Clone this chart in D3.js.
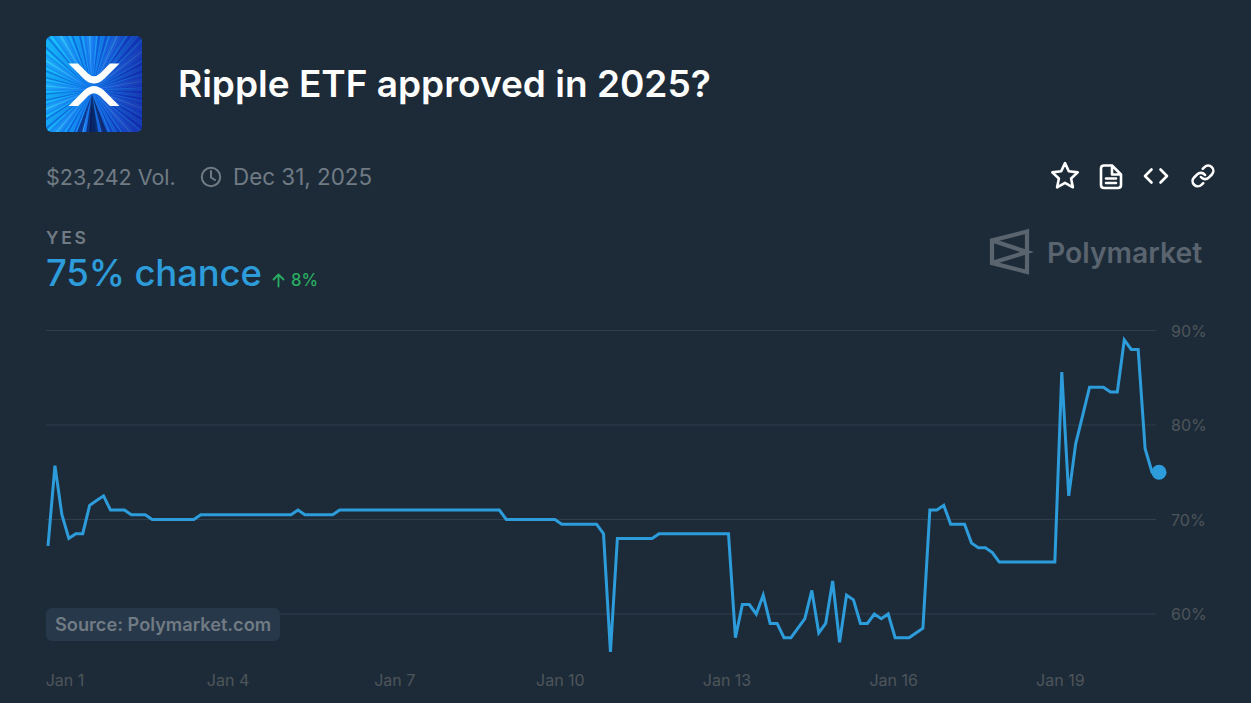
<!DOCTYPE html>
<html><head><meta charset="utf-8">
<script src="https://cdn.jsdelivr.net/npm/d3@7"></script>
<style>
html,body{margin:0;padding:0;background:#1D2B39;overflow:hidden}
svg{display:block;font-family:Inter,"Noto Sans",sans-serif}
</style></head><body><svg id="c" width="1251" height="703"></svg>
<script>
const title = "Ripple ETF approved in 2025?";
const volumeLabel = "$23,242 Vol.";
const endDateLabel = "Dec 31, 2025";
const outcomeLabel = "YES";
const chanceLabel = "75% chance";
const changeLabel = "8%";
const sourceLabel = "Source: Polymarket.com";
const brandLabel = "Polymarket";
const startTime = Date.UTC(2024, 11, 31, 18, 12);
const stepHours = 3;
const yTicks = [60, 70, 80, 90];
const xTickDates = [[0,1],[0,4],[0,7],[0,10],[0,13],[0,16],[0,19]];
const values = [
 67.2,75.7,70.5,68,68.5,68.5,71.5,72,72.5,71,
 71,71,70.5,70.5,70.5,70,70,70,70,70,
 70,70,70.5,70.5,70.5,70.5,70.5,70.5,70.5,70.5,
 70.5,70.5,70.5,70.5,70.5,70.5,71,70.5,70.5,70.5,
 70.5,70.5,71,71,71,71,71,71,71,71,
 71,71,71,71,71,71,71,71,71,71,
 71,71,71,71,71,71,70,70,70,70,
 70,70,70,70,69.5,69.5,69.5,69.5,69.5,69.5,
 68.5,56,68,68,68,68,68,68,68.5,68.5,
 68.5,68.5,68.5,68.5,68.5,68.5,68.5,68.5,68.5,57.5,
 61,61,60,62,59,59,57.5,57.5,58.5,59.5,
 62.5,58,59,63.5,57,62,61.5,59,59,60,
 59.5,60,57.5,57.5,57.5,58,58.5,71,71,71.5,
 69.5,69.5,69.5,67.5,67,67,66.5,65.5,65.5,65.5,
 65.5,65.5,65.5,65.5,65.5,65.5,85.6,72.5,78,81,
 84,84,84,83.5,83.5,89,88,88,77.5,75,
 75
];

const series = values.map((v,i)=>({t:new Date(startTime+i*stepHours*36e5),v}));
const svg = d3.select("#c");
const C = {bg:"#1D2B39",line:"#2D9CDB",grid:"#2F3F4E",tick:"#4E5559",muted:"#717B84",green:"#27AE60",white:"#FFFFFF",logo:"#59646F",srcBg:"#26384A"};

const x = d3.scaleUtc().domain([series[0].t, series[series.length-1].t]).range([48,1159]);
const y = d3.scaleLinear().domain([60,90]).range([614,330.5]);

// Thumbnail
const defs = svg.append("defs");
const cp = defs.append("clipPath").attr("id","thumb");
cp.append("rect").attr("x",46).attr("y",36).attr("width",96).attr("height",96).attr("rx",6);
const bgGrad = defs.append("linearGradient").attr("id","tg").attr("x1","0").attr("x2","1").attr("y1","0.35").attr("y2","0.55");
bgGrad.append("stop").attr("offset","0").attr("stop-color","#12B8F8");
bgGrad.append("stop").attr("offset","0.45").attr("stop-color","#1270EA");
bgGrad.append("stop").attr("offset","1").attr("stop-color","#1A2FC4");
const shade = defs.append("linearGradient").attr("id","ts").attr("x1","0").attr("x2","1");
shade.append("stop").attr("offset","0.5").attr("stop-color","#12249A").attr("stop-opacity",0);
shade.append("stop").attr("offset","1").attr("stop-color","#12249A").attr("stop-opacity",0.6);
const th = svg.append("g").attr("clip-path","url(#thumb)");
th.append("rect").attr("x",46).attr("y",36).attr("width",96).attr("height",96).attr("fill","url(#tg)");
const rayColors = ["#23C8FF","#0F5FE0","#3DA8FF","#1248D8","#18A8F4","#0B3BC4","#52D4FF","#1A7AF0","#0E2FA8","#2B90FA","#0A4BD0"];
const cx=92, cy=90;
d3.range(0,360,2.5).forEach((a,i)=>{
  const a0=(a-1)*Math.PI/180,a1=(a+1)*Math.PI/180,R=100;
  th.append("path").attr("d",`M${cx},${cy}L${cx+R*Math.cos(a0)},${cy+R*Math.sin(a0)}L${cx+R*Math.cos(a1)},${cy+R*Math.sin(a1)}Z`)
    .attr("fill",rayColors[(i*i*3+i*7)%rayColors.length]).attr("opacity",0.5);
});
[[72,50,"#061A50"],[84,44,"#071E58"],[95,46,"#0A1E60"],[108,50,"#0A2A80"],[90,40,"#06144A"]].forEach(([a,L,col])=>{
  const a0=(a-3.5)*Math.PI/180,a1=(a+3.5)*Math.PI/180;
  th.append("path").attr("d",`M${cx},${cy+4}L${cx+L*Math.cos(a0)},${cy+4+L*Math.sin(a0)}L${cx+L*Math.cos(a1)},${cy+4+L*Math.sin(a1)}Z`).attr("fill",col).attr("opacity",.8);
});
th.append("rect").attr("x",46).attr("y",36).attr("width",96).attr("height",96).attr("fill","url(#ts)");
th.append("path").attr("fill","#fff").attr("d","M68.5,63.5H78L88,73.5Q94,79 100,73.5L110,63.5H119.5L104,79Q94,88 84,79Z");
th.append("path").attr("fill","#fff").attr("d","M68.5,106L84,90.5Q94,81.5 104,90.5L119.5,106H110L100,96Q94,90.5 88,96L78,106Z");

const txt=(s,px,py,size,fill,weight,ls)=>svg.append("text").text(s).attr("x",px).attr("y",py).attr("font-size",size).attr("fill",fill).attr("font-weight",weight||400).attr("letter-spacing",ls||null);
txt(title,178,97,37,C.white,600);
txt(volumeLabel,46,185,21.5,C.muted,400);
txt(endDateLabel,233,185,22.4,C.muted,400);
const ck=svg.append("g").attr("fill","none").attr("stroke",C.muted).attr("stroke-width",2).attr("stroke-linecap","round").attr("stroke-linejoin","round");
ck.append("circle").attr("cx",211).attr("cy",177).attr("r",9.2);
ck.append("path").attr("d","M211,171V177.5L215,180");

txt(outcomeLabel,46,244,17.5,C.muted,600,"2.7px");
txt(chanceLabel,46,286,36.5,C.line,500,"-0.15px");
svg.append("path").attr("d","M278.5,286.5V274.5M273.5,279.5L278.5,274.5L283.5,279.5").attr("fill","none").attr("stroke",C.green).attr("stroke-width",1.8).attr("stroke-linecap","round").attr("stroke-linejoin","round");
txt(changeLabel,291,285.5,16.7,C.green,500);

const ic=svg.append("g").attr("fill","none").attr("stroke",C.white).attr("stroke-width",2.6).attr("stroke-linecap","round").attr("stroke-linejoin","round");
ic.append("path").attr("d",d3.range(10).map(i=>{const r=i%2?6.4:13.4,a=-Math.PI/2+i*Math.PI/5;return (i?"L":"M")+(1065+r*Math.cos(a)).toFixed(1)+","+(176.5+r*Math.sin(a)).toFixed(1);}).join("")+"Z");
ic.append("path").attr("d","M1104,165.5H1112L1121,174.5V185Q1121,188 1118,188H1104Q1101,188 1101,185V168.5Q1101,165.5 1104,165.5ZM1112,165.5V174.5H1121M1106,178.5H1116M1106,183H1116");
ic.append("path").attr("d","M1151.5,169.5L1145,176L1151.5,182.5M1160.5,169.5L1167,176L1160.5,182.5");
ic.append("g").attr("transform","translate(1190.5,163.5) scale(1.04)").attr("stroke-width",2.5)
  .selectAll("path").data(["M10 13a5 5 0 0 0 7.54.54l3-3a5 5 0 0 0-7.07-7.07l-1.72 1.71","M14 11a5 5 0 0 0-7.54-.54l-3 3a5 5 0 0 0 7.07 7.07l1.71-1.71"]).join("path").attr("d",d=>d);

const lg=svg.append("g").attr("fill","none").attr("stroke",C.logo).attr("stroke-width",4.2).attr("stroke-linejoin","miter");
lg.append("path").attr("d","M1027,231.5V272L992,263V240.5ZM992,240.5L1027,252L992,263");
txt(brandLabel,1047,263,28.3,C.logo,600);

const yAxis=d3.axisRight(y).tickValues(yTicks).tickFormat(d=>d+"%").tickSize(0).tickPadding(0);
const yg=svg.append("g").attr("transform","translate(1171,0.5)").call(yAxis);
yg.select(".domain").remove();
yg.selectAll("text").attr("font-size",16).attr("fill",C.tick).attr("font-family","Inter");
svg.append("g").selectAll("line").data(yTicks).join("line")
  .attr("x1",46).attr("x2",1156).attr("y1",d=>y(d)).attr("y2",d=>y(d)).attr("stroke",C.grid).attr("stroke-width",1);

const xVals=xTickDates.map(([m,d])=>new Date(Date.UTC(2025,m,d)));
const xAxis=d3.axisBottom(x).tickValues(xVals).tickFormat(d3.utcFormat("%b %-d")).tickSize(0).tickPadding(0);
const xg=svg.append("g").attr("transform","translate(0,675)").call(xAxis);
xg.select(".domain").remove();
xg.selectAll("text").attr("font-size",16).attr("fill",C.tick).attr("font-family","Inter")
  .attr("dx",(d,i)=>i===0?3:(d.getUTCDate()>=10?-1.5:-0.5));

svg.append("rect").attr("x",46).attr("y",608).attr("width",234).attr("height",33).attr("rx",6).attr("fill",C.srcBg);
txt(sourceLabel,55,631,18.2,C.muted,600);

const line=d3.line().x(d=>x(d.t)).y(d=>y(d.v));
svg.append("path").datum(series).attr("d",line).attr("fill","none").attr("stroke",C.line).attr("stroke-width",3).attr("stroke-linejoin","miter");
const last=series[series.length-1];
svg.append("circle").attr("cx",x(last.t)).attr("cy",y(last.v)).attr("r",7.5).attr("fill",C.line);
</script></body></html>
